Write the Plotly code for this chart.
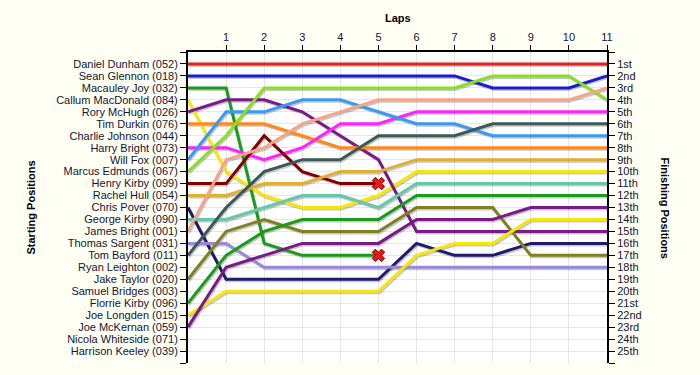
import plotly.graph_objects as go

# ---------------- data ----------------
laps = [0, 1, 2, 3, 4, 5, 6, 7, 8, 9, 10, 11]
lap_ticks = [1, 2, 3, 4, 5, 6, 7, 8, 9, 10, 11]

starting_names = [
    "Daniel Dunham (052)", "Sean Glennon (018)", "Macauley Joy (032)",
    "Callum MacDonald (084)", "Rory McHugh (026)", "Tim Durkin (076)",
    "Charlie Johnson (044)", "Harry Bright (073)", "Will Fox (007)",
    "Marcus Edmunds (067)", "Henry Kirby (099)", "Rachel Hull (054)",
    "Chris Pover (070)", "George Kirby (090)", "James Bright (001)",
    "Thomas Sargent (031)", "Tom Bayford (011)", "Ryan Leighton (002)",
    "Jake Taylor (020)", "Samuel Bridges (003)", "Florrie Kirby (096)",
    "Joe Longden (015)", "Joe McKernan (059)", "Nicola Whiteside (071)",
    "Harrison Keeley (039)",
]
finish_labels = [
    "1st", "2nd", "3rd", "4th", "5th", "6th", "7th", "8th", "9th", "10th",
    "11th", "12th", "13th", "14th", "15th", "16th", "17th", "18th", "19th",
    "20th", "21st", "22nd", "23rd", "24th", "25th",
]
position_ticks = [0, 1, 2, 3, 4, 5, 6, 7, 8, 9, 10, 11, 12, 13, 14, 15, 16,
                  17, 18, 19, 20, 21, 22, 23, 24, 25, 26]

pos_dunham = [1, 1, 1, 1, 1, 1, 1, 1, 1, 1, 1, 1]
pos_glennon = [2, 2, 2, 2, 2, 2, 2, 2, 3, 3, 3, 2]
pos_joy = [3, 3, 16, 17, 17, 17]
pos_macdonald = [4, 10, 12, 13, 13, 12, 10, 10, 10, 10, 10, 10]
pos_mchugh = [5, 4, 4, 5, 7, 9, 15, 15, 15, 15, 15, 15]
pos_durkin = [6, 6, 6, 7, 8, 8, 8, 8, 8, 8, 8, 8]
pos_harry_bright = [8, 8, 9, 8, 6, 6, 5, 5, 5, 5, 5, 5]
pos_fox = [9, 5, 5, 4, 4, 5, 6, 6, 7, 7, 7, 7]
pos_edmunds = [10, 7, 3, 3, 3, 3, 3, 3, 2, 2, 2, 4]
pos_henry_kirby = [11, 11, 7, 10, 11, 11]
pos_hull = [12, 12, 11, 11, 10, 10, 9, 9, 9, 9, 9, 9]
pos_pover = [13, 19, 19, 19, 19, 19, 16, 17, 17, 16, 16, 16]
pos_george_kirby = [14, 14, 13, 12, 12, 13, 11, 11, 11, 11, 11, 11]
pos_james_bright = [15, 9, 8, 6, 5, 4, 4, 4, 4, 4, 4, 3]
pos_sargent = [16, 16, 18, 18, 18, 18, 18, 18, 18, 18, 18, 18]
pos_bayford = [17, 13, 10, 9, 9, 7, 7, 7, 6, 6, 6, 6]
pos_taylor = [19, 15, 14, 15, 15, 15, 13, 13, 13, 17, 17, 17]
pos_florrie_kirby = [21, 17, 15, 14, 14, 14, 12, 12, 12, 12, 12, 12]
pos_longden = [22, 20, 20, 20, 20, 20, 17, 16, 16, 14, 14, 14]
pos_mckernan = [23, 18, 17, 16, 16, 16, 14, 14, 14, 13, 13, 13]

retired = ["Macauley Joy", "Henry Kirby"]

# (name, positions, colour)
racers = [
    ("Daniel Dunham", pos_dunham, "#e3211c"),
    ("Sean Glennon", pos_glennon, "#1c1ccf"),
    ("Macauley Joy", pos_joy, "#1a9c1a"),
    ("Callum MacDonald", pos_macdonald, "#f7e60c"),
    ("Rory McHugh", pos_mchugh, "#7a1a88"),
    ("Tim Durkin", pos_durkin, "#ff8a1c"),
    ("Harry Bright", pos_harry_bright, "#ff22ff"),
    ("Will Fox", pos_fox, "#3a9af0"),
    ("Marcus Edmunds", pos_edmunds, "#88e022"),
    ("Henry Kirby", pos_henry_kirby, "#800000"),
    ("Rachel Hull", pos_hull, "#e0b030"),
    ("Chris Pover", pos_pover, "#1c1c6a"),
    ("George Kirby", pos_george_kirby, "#66c8a8"),
    ("James Bright", pos_james_bright, "#f5a588"),
    ("Thomas Sargent", pos_sargent, "#9a88dd"),
    ("Tom Bayford", pos_bayford, "#3c5858"),
    ("Jake Taylor", pos_taylor, "#808020"),
    ("Florrie Kirby", pos_florrie_kirby, "#1a9c1a"),
    ("Joe Longden", pos_longden, "#f7e60c"),
    ("Joe McKernan", pos_mckernan, "#7a1a88"),
]

# ---------------- figure ----------------
W, H = 700, 375
ML, MR, MT, MB = 188, 93, 52, 12
PW, PH = W - ML - MR, H - MT - MB

FONT = "Liberation Sans, Arial, sans-serif"
TXT = "#141432"
PAPER = "#fffff4"

fig = go.Figure()

# invisible anchor trace so the base (labelled) axes are drawn
fig.add_trace(go.Scatter(
    x=[laps[0]], y=[pos_dunham[0]], xaxis="x", yaxis="y", mode="markers",
    marker=dict(opacity=0, size=1), hoverinfo="skip", showlegend=False))

# shadow offsets (in data units) -> ~1px right, ~1.5px down
dx = 11 / PW * 1.0
dy = 26 / PH * 1.5

for name, pos, col in racers:
    fig.add_trace(go.Scatter(
        x=laps[:len(pos)], y=pos, xaxis="x2", yaxis="y2", mode="lines",
        line=dict(color="rgba(0,0,0,0.22)", width=3),
        hoverinfo="skip", showlegend=False))

for name, pos, col in racers:
    fig.add_trace(go.Scatter(
        x=laps[:len(pos)], y=pos, xaxis="x3", yaxis="y3", mode="lines",
        line=dict(color=col, width=3), name=name, showlegend=False))

for name, pos, col in racers:
    if name in retired:
        fig.add_trace(go.Scatter(
            x=[laps[len(pos) - 1]], y=[pos[-1]], xaxis="x3", yaxis="y3",
            mode="markers",
            marker=dict(symbol="x", size=11, color="#f01414",
                        line=dict(color="#7a0000", width=1)),
            name=name + " (retired)", showlegend=False))

axis_common = dict(fixedrange=True, zeroline=False, automargin=False)

fig.update_layout(
    width=W, height=H,
    margin=dict(l=ML, r=MR, t=MT, b=MB, pad=0, autoexpand=False),
    paper_bgcolor=PAPER,
    plot_bgcolor="#ffffff",
    font=dict(family=FONT, size=11, color=TXT),
    showlegend=False,
    xaxis=dict(
        range=[0, 11], side="top", tickmode="array", tickvals=lap_ticks,
        ticktext=[str(v) for v in lap_ticks],
        showgrid=True, gridcolor="#e6e6e6", gridwidth=1,
        showline=True, linecolor="#000000", linewidth=2,
        ticks="outside", ticklen=5, tickcolor="#000000", tickwidth=1,
        tickfont=dict(size=11, color=TXT), **axis_common),
    yaxis=dict(
        range=[26, 0], tickmode="array", tickvals=position_ticks,
        ticktext=[""] + starting_names + [""],
        showgrid=True, gridcolor="#e6e6e6", gridwidth=1,
        showline=True, linecolor="#000000", linewidth=2,
        ticks="outside", ticklen=6, tickcolor="#000000", tickwidth=1,
        tickfont=dict(size=11, color=TXT), **axis_common),
    xaxis2=dict(overlaying="x", range=[0 - dx, 11 - dx], visible=False,
                **axis_common),
    yaxis2=dict(overlaying="y", range=[26 - dy, 0 - dy], visible=False,
                **axis_common),
    xaxis3=dict(overlaying="x", range=[0, 11], visible=False, **axis_common),
    yaxis3=dict(
        overlaying="y", side="right", anchor="x3", range=[26, 0],
        tickmode="array", tickvals=position_ticks,
        ticktext=[""] + finish_labels + [""],
        showgrid=False, showline=True, linecolor="#000000", linewidth=2,
        ticks="outside", ticklen=6, tickcolor="#000000", tickwidth=1,
        tickfont=dict(size=11, color=TXT), **axis_common),
    annotations=[
        dict(text="<b>Laps</b>", xref="paper", yref="paper",
             x=0.5, y=1 + (MT - 18) / PH, xanchor="center", yanchor="middle",
             showarrow=False, font=dict(size=11, color="#000000")),
        dict(text="<b>Starting Positions</b>", xref="paper", yref="paper",
             x=(30 - ML) / PW, y=0.5, xanchor="center", yanchor="middle",
             textangle=-90, showarrow=False,
             font=dict(size=11, color="#000000")),
        dict(text="<b>Finishing Positions</b>", xref="paper", yref="paper",
             x=(665 - ML) / PW, y=0.5, xanchor="center", yanchor="middle",
             textangle=90, showarrow=False,
             font=dict(size=11, color="#000000")),
    ],
)

fig.write_html(
    "out.html",
    config={"displayModeBar": False, "staticPlot": False},
    post_script="document.body.style.margin='0';"
                "document.body.style.background='" + PAPER + "';",
)
